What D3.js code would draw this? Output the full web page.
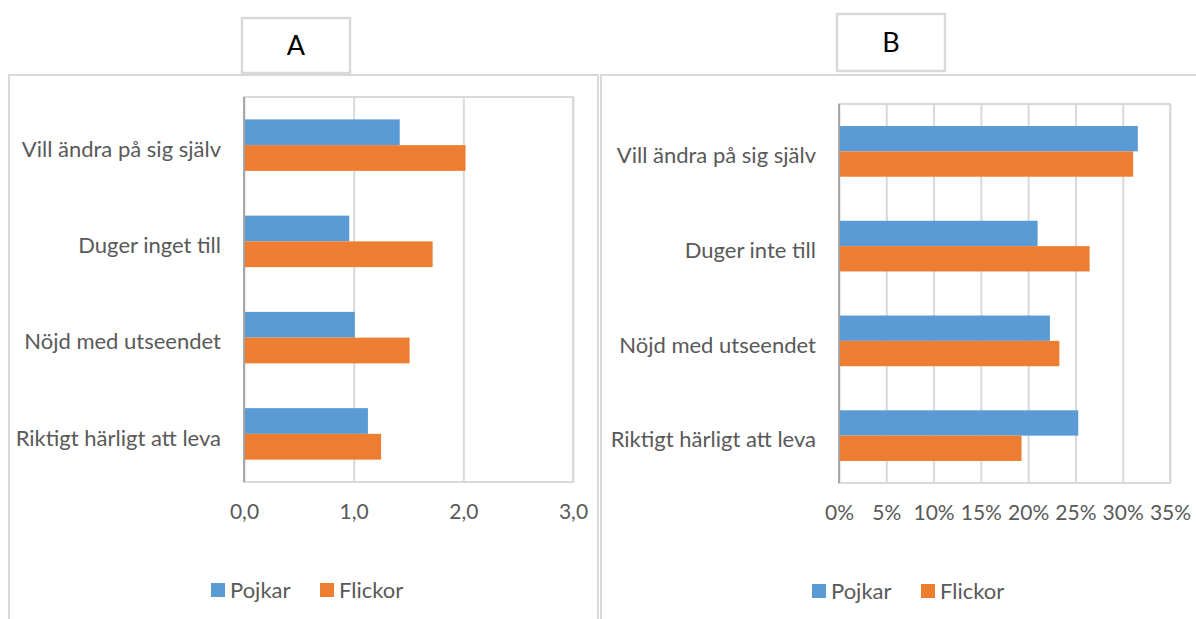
<!DOCTYPE html>
<html><head><meta charset="utf-8">
<script src="https://cdn.jsdelivr.net/npm/d3@7"></script>
<style>
html,body{margin:0;padding:0;background:#fff;}
svg{display:block;}
text{font-family:Lato,"Open Sans",sans-serif;}
</style></head>
<body>
<svg id="chart" width="1196" height="619"></svg>
<script>
// ---- data ----
const categoriesA = ["Vill ändra på sig själv", "Duger inget till", "Nöjd med utseendet", "Riktigt härligt att leva"];
const categoriesB = ["Vill ändra på sig själv", "Duger inte till", "Nöjd med utseendet", "Riktigt härligt att leva"];
const seriesNames = ["Pojkar", "Flickor"];
const seriesColors = ["#5B9BD5", "#ED7D31"];
const pojkarA = [1.42, 0.96, 1.01, 1.13];
const flickorA = [2.02, 1.72, 1.51, 1.25];
const pojkarB = [0.316, 0.210, 0.223, 0.253];
const flickorB = [0.311, 0.265, 0.233, 0.193];
const ticksA = [0, 1, 2, 3];
const tickLabelsA = ["0,0", "1,0", "2,0", "3,0"];
const ticksB = [0, 0.05, 0.10, 0.15, 0.20, 0.25, 0.30, 0.35];
const tickLabelsB = ["0%", "5%", "10%", "15%", "20%", "25%", "30%", "35%"];
const titles = ["A", "B"];

const svg = d3.select("#chart");
const textColor = "#595959";
const frameColor = "#d9d9d9";
const catFont = 22, tickFont = 21, legendFont = 22;

function panel(cfg) {
  const g = svg.append("g");
  // outer frame
  g.append("path")
    .attr("d", `M${cfg.frame.x0},${cfg.frame.y1} V${cfg.frame.y0} H${cfg.frame.x1} V${cfg.frame.y1}`)
    .attr("fill", "none").attr("stroke", frameColor).attr("stroke-width", 2);
  // title box
  g.append("rect")
    .attr("x", cfg.title.x).attr("y", cfg.title.y)
    .attr("width", cfg.title.w).attr("height", cfg.title.h)
    .attr("fill", "#fff").attr("stroke", frameColor).attr("stroke-width", 2.5);
  g.append("text")
    .attr("x", cfg.title.x + cfg.title.w / 2).attr("y", cfg.title.y + cfg.title.h / 2)
    .attr("text-anchor", "middle").attr("dy", "0.36em")
    .attr("font-size", 27).attr("fill", "#000").text(cfg.titleText);

  const p = cfg.plot;
  const x = d3.scaleLinear().domain(cfg.domain).range([p.x0, p.x1]);
  const y = d3.scaleBand().domain(cfg.categories).range([p.y0, p.y1])
    .paddingInner(0.465).paddingOuter(0.2325);
  const ys = d3.scaleBand().domain(seriesNames).range([0, y.bandwidth()]);

  // plot border
  g.append("rect").attr("x", p.x0).attr("y", p.y0)
    .attr("width", p.x1 - p.x0).attr("height", p.y1 - p.y0)
    .attr("fill", "none").attr("stroke", frameColor).attr("stroke-width", 2);

  // grid + tick labels
  const axis = d3.axisBottom(x).tickValues(cfg.ticks)
    .tickFormat((d, i) => cfg.tickLabels[i])
    .tickSizeInner(-(p.y1 - p.y0)).tickSizeOuter(0).tickPadding(22);
  const ax = g.append("g").attr("transform", `translate(0,${p.y1})`).call(axis);
  ax.select(".domain").remove();
  ax.selectAll(".tick line").attr("stroke", frameColor).attr("stroke-width", 2);
  ax.selectAll(".tick text").attr("fill", textColor).attr("font-size", tickFont)
    .attr("font-family", "Lato, 'Open Sans', sans-serif");

  // bars
  const rows = cfg.categories.map((c, i) => ({ c, vals: [cfg.s1[i], cfg.s2[i]] }));
  const rg = g.selectAll("g.row").data(rows).join("g").attr("class", "row")
    .attr("transform", d => `translate(0,${y(d.c)})`);
  rg.selectAll("rect").data(d => d.vals.map((v, k) => ({ v, k })))
    .join("rect")
    .attr("x", x(0)).attr("y", d => ys(seriesNames[d.k]))
    .attr("width", d => x(d.v) - x(0)).attr("height", ys.bandwidth())
    .attr("fill", d => seriesColors[d.k]);

  // left axis line
  g.append("line").attr("x1", p.x0).attr("x2", p.x0).attr("y1", p.y0).attr("y2", p.y1)
    .attr("stroke", "#a6a6a6").attr("stroke-width", 2);

  // category labels
  g.selectAll("text.cat").data(cfg.categories).join("text").attr("class", "cat")
    .attr("x", cfg.labelX).attr("y", d => y(d) + y.bandwidth() / 2 + 4)
    .attr("text-anchor", "end").attr("dy", "0.35em")
    .attr("font-size", catFont).attr("fill", textColor).text(d => d);

  // legend
  const lg = g.append("g").attr("transform", `translate(${cfg.legend.x},${cfg.legend.y})`);
  const items = lg.selectAll("g").data(seriesNames).join("g")
    .attr("transform", (d, i) => `translate(${i * cfg.legend.step},0)`);
  items.append("rect").attr("x", 0).attr("y", -7).attr("width", 14).attr("height", 14)
    .attr("fill", (d, i) => seriesColors[i]);
  items.append("text").attr("x", 19).attr("y", 0).attr("dy", "0.35em")
    .attr("font-size", legendFont).attr("fill", textColor).text(d => d);
}

panel({
  frame: { x0: 9, x1: 598, y0: 75, y1: 640 },
  title: { x: 242, y: 18, w: 108, h: 55 },
  titleText: titles[0],
  plot: { x0: 244, x1: 573, y0: 97, y1: 482 },
  domain: [0, 3], ticks: ticksA, tickLabels: tickLabelsA,
  categories: categoriesA, s1: pojkarA, s2: flickorA,
  labelX: 221,
  legend: { x: 211, y: 590, step: 109 }
});

panel({
  frame: { x0: 601, x1: 1210, y0: 75, y1: 640 },
  title: { x: 837, y: 14, w: 108, h: 57 },
  titleText: titles[1],
  plot: { x0: 839, x1: 1170, y0: 104, y1: 483 },
  domain: [0, 0.35], ticks: ticksB, tickLabels: tickLabelsB,
  categories: categoriesB, s1: pojkarB, s2: flickorB,
  labelX: 816,
  legend: { x: 812, y: 591, step: 109 }
});
</script>
</body></html>
